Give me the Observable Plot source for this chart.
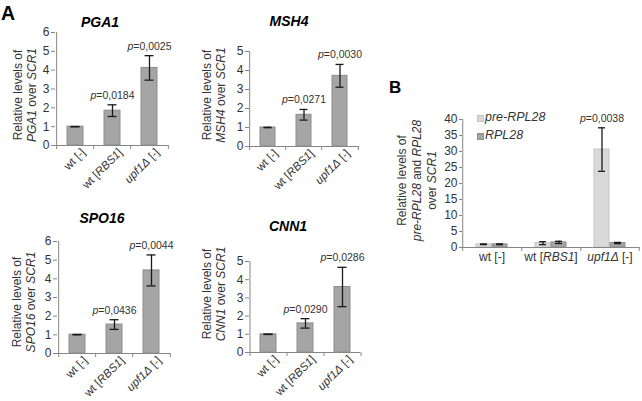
<!DOCTYPE html>
<html><head><meta charset="utf-8">
<script src="https://cdn.jsdelivr.net/npm/d3@7"></script>
<script src="https://cdn.jsdelivr.net/npm/@observablehq/plot@0.6"></script>
<style>
body{margin:0;background:#fff;}
#root{position:relative;width:642px;height:401px;overflow:hidden;font-family:"Liberation Sans",Arial,sans-serif;color:#333;}
#root svg{position:absolute;overflow:visible;}
.t{position:absolute;white-space:nowrap;}
.ytitle{position:absolute;transform:rotate(-90deg);transform-origin:50% 50%;text-align:center;white-space:nowrap;font-size:12px;line-height:14px;color:#333;}
.ttl{position:absolute;text-align:center;font-weight:bold;font-style:italic;font-size:14px;line-height:14px;color:#000;}
.sq{position:absolute;width:5px;height:5px;}
</style></head><body><div id="root"></div>
<script>
// ---------- data ----------
const strains = ["wt [-]", "wt [RBS1]", "upf1Δ [-]"];

const pga1Mean = [1.00, 1.85, 4.12];
const pga1Err  = [0.01, 0.31, 0.65];
const pga1P    = [null, "0,0184", "0,0025"];

const msh4Mean = [1.00, 1.67, 3.72];
const msh4Err  = [0.01, 0.28, 0.60];
const msh4P    = [null, "0,0271", "0,0030"];

const spo16Mean = [1.01, 1.55, 4.45];
const spo16Err  = [0.01, 0.26, 0.83];
const spo16P    = [null, "0,0436", "0,0044"];

const cnn1Mean = [1.00, 1.60, 3.60];
const cnn1Err  = [0.01, 0.26, 1.08];
const cnn1P    = [null, "0,0290", "0,0286"];

const seriesB   = ["pre-RPL28", "RPL28"];
const preMean   = [1.00, 1.35, 30.6];
const preErr    = [0.10, 0.45, 6.8];
const rplMean   = [1.00, 1.60, 1.40];
const rplErr    = [0.12, 0.35, 0.20];
const pB        = [null, null, "0,0038"];

// ---------- helpers ----------
const root = document.getElementById("root");
const FONT = '"Liberation Sans", Arial, sans-serif';
const AXIS = "#868686";
const rich = {
  "wt [RBS1]": 'wt [<tspan font-style="italic">RBS1</tspan>]',
  "upf1Δ [-]": '<tspan font-style="italic">upf1Δ</tspan> [-]'
};
function richify(svg) {
  svg.querySelectorAll("text, tspan").forEach(t => {
    if (t.children.length) return;
    const s = t.textContent;
    if (rich[s]) t.innerHTML = rich[s];
    else if (/^p=/.test(s)) t.innerHTML = '<tspan font-style="italic">p</tspan>' + s.slice(1);
  });
}
function place(svg, left, top) {
  svg.style.left = left + "px"; svg.style.top = top + "px";
  richify(svg); root.appendChild(svg);
}
function addDiv(cls, html, css) {
  const d = document.createElement("div");
  d.className = cls; d.innerHTML = html; Object.assign(d.style, css); root.appendChild(d); return d;
}
function yTitle(lines, cx, cy, w, lh) {
  const h = lines.length * lh;
  addDiv("ytitle", lines.join("<br>"), {left: (cx - w/2) + "px", top: (cy - h/2) + "px", width: w + "px", height: h + "px", lineHeight: lh + "px"});
}

function panelA(o) {
  const {left, top, width, height, ml, mr, mt, mb, ymax, mean, err, pv} = o;
  const fw = width - ml - mr, fh = height - mt - mb;
  const step = fw / strains.length;
  const tu = 4 * ymax / fh;
  const data = strains.map((s, i) => ({s, m: mean[i], e: err[i], p: pv[i]}));
  const svg = Plot.plot({
    width, height, marginLeft: ml, marginRight: mr, marginTop: mt, marginBottom: mb,
    style: {fontFamily: FONT, fontSize: "12px", color: "#333", background: "transparent", overflow: "visible"},
    x: {domain: strains, paddingInner: 0.57, paddingOuter: 0.285, axis: null, label: null},
    y: {domain: [0, ymax], label: null},
    marks: [
      Plot.barY(data, {x: "s", y: "m", fill: "#a5a5a5", stroke: "#8d8d8d", strokeWidth: 1}),
      Plot.ruleY([0], {stroke: AXIS}),
      Plot.ruleX([strains[0]], {dx: -step/2, stroke: AXIS}),
      Plot.ruleX(strains, {x: d => d, y1: 0, y2: -tu, dx: -step/2, stroke: AXIS}),
      Plot.ruleX([strains[strains.length-1]], {x: d => d, y1: 0, y2: -tu, dx: step/2, stroke: AXIS}),
      Plot.axisY({ticks: d3.range(0, ymax + 1), tickFormat: d3.format("d"), tickSize: 4, tickPadding: 2, stroke: AXIS, fontSize: 12, fill: "#333"}),
      Plot.ruleX(data, {x: "s", y1: d => d.m - d.e, y2: d => d.m + d.e, stroke: "#1a1a1a", strokeWidth: 1.3}),
      Plot.tickY(data, {x: "s", y: d => d.m - d.e, insetLeft: 3.5, insetRight: 3.5, stroke: "#1a1a1a", strokeWidth: 1.3}),
      Plot.tickY(data, {x: "s", y: d => d.m + d.e, insetLeft: 3.5, insetRight: 3.5, stroke: "#1a1a1a", strokeWidth: 1.3}),
      Plot.text(data.filter(d => d.p), {x: "s", y: d => d.m + d.e, text: d => "p=" + d.p, lineAnchor: "bottom", dy: -6, fontSize: 10.5, fill: "#333"}),
      Plot.text(strains, {x: d => d, frameAnchor: "bottom", text: d => d, rotate: -45, textAnchor: "end", lineAnchor: "middle", dx: 8, dy: 5, fontSize: 11.5, fill: "#333"})
    ]
  });
  place(svg, left, top);
}

// ---------- panel A ----------
panelA({left: 0, top: 0, width: 180, height: 200, ml: 55, mr: 12, mt: 32, mb: 55, ymax: 6, mean: pga1Mean, err: pga1Err, pv: pga1P});
panelA({left: 190, top: 0, width: 180, height: 200, ml: 59, mr: 11, mt: 51, mb: 54, ymax: 5, mean: msh4Mean, err: msh4Err, pv: msh4P});
panelA({left: 0, top: 200, width: 180, height: 201, ml: 57, mr: 10, mt: 41, mb: 48, ymax: 6, mean: spo16Mean, err: spo16Err, pv: spo16P});
panelA({left: 190, top: 200, width: 180, height: 201, ml: 59, mr: 10, mt: 61, mb: 49, ymax: 5, mean: cnn1Mean, err: cnn1Err, pv: cnn1P});

addDiv("t", "A", {left: "1px", top: "4px", fontSize: "19.5px", fontWeight: "bold", lineHeight: "19.5px", color: "#000"});
addDiv("ttl", "PGA1",  {left: "50px",  top: "15px",  width: "100px"});
addDiv("ttl", "MSH4",  {left: "239px", top: "14px",  width: "100px"});
addDiv("ttl", "SPO16", {left: "52px",  top: "211px", width: "100px"});
addDiv("ttl", "CNN1",  {left: "238px", top: "219px", width: "100px"});

yTitle(["Relative levels of", "<i>PGA1</i> over <i>SCR1</i>"], 24.5, 95, 130, 14);
yTitle(["Relative levels of", "<i>MSH4</i> over <i>SCR1</i>"], 214, 95, 130, 14);
yTitle(["Relative levels of", "<i>SPO16</i> over <i>SCR1</i>"], 23.5, 302, 130, 14);
yTitle(["Relative levels of", "<i>CNN1</i> over <i>SCR1</i>"], 214, 294, 130, 14);

// ---------- panel B ----------
(function () {
  const width = 262, height = 220, ml = 81, mr = 3, mt = 59, mb = 33, ymax = 40;
  const fw = (width - ml - mr) / strains.length, fh = height - mt - mb;
  const pi = 0.05, po = 0.79;
  const xstep = fw / (seriesB.length - pi + 2 * po);
  const off = xstep * (po + (1 - pi) / 2);
  const tu = 4 * ymax / fh;
  const pre = strains.map((g, i) => ({g, s: seriesB[0], m: preMean[i], e: preErr[i], p: pB[i]}));
  const rpl = strains.map((g, i) => ({g, s: seriesB[1], m: rplMean[i], e: rplErr[i]}));
  const all = pre.concat(rpl);
  const svg = Plot.plot({
    width, height, marginLeft: ml, marginRight: mr, marginTop: mt, marginBottom: mb,
    style: {fontFamily: FONT, fontSize: "12px", color: "#333", background: "transparent", overflow: "visible"},
    fx: {domain: strains, padding: 0, axis: null, label: null},
    x: {domain: seriesB, paddingInner: pi, paddingOuter: po, axis: null, label: null},
    y: {domain: [0, ymax], label: null},
    marks: [
      Plot.barY(pre, {fx: "g", x: "s", y: "m", fill: "#d9d9d9", stroke: "#c4c4c4"}),
      Plot.barY(rpl, {fx: "g", x: "s", y: "m", fill: "#a5a5a5", stroke: "#8d8d8d"}),
      Plot.ruleY([0], {stroke: AXIS}),
      Plot.ruleX([strains[0]], {fx: d => d, x: () => seriesB[0], dx: -off, stroke: AXIS}),
      Plot.ruleX(strains, {fx: d => d, x: () => seriesB[0], y1: 0, y2: -tu, dx: -off, stroke: AXIS}),
      Plot.ruleX([strains[strains.length-1]], {fx: d => d, x: () => seriesB[1], y1: 0, y2: -tu, dx: off, stroke: AXIS}),
      Plot.axisY({ticks: d3.range(0, ymax + 1, 5), tickFormat: d3.format("d"), tickSize: 3, tickPadding: 2, stroke: AXIS, fontSize: 12, fill: "#333"}),
      Plot.ruleX(all, {fx: "g", x: "s", y1: d => d.m - d.e, y2: d => d.m + d.e, stroke: "#1a1a1a", strokeWidth: 1.3}),
      Plot.tickY(all, {fx: "g", x: "s", y: d => d.m - d.e, insetLeft: 4, insetRight: 4, stroke: "#1a1a1a", strokeWidth: 1.3}),
      Plot.tickY(all, {fx: "g", x: "s", y: d => d.m + d.e, insetLeft: 4, insetRight: 4, stroke: "#1a1a1a", strokeWidth: 1.3}),
      Plot.text(pre.filter(d => d.p), {fx: "g", x: "s", y: d => d.m + d.e, text: d => "p=" + d.p, lineAnchor: "bottom", dy: -6, fontSize: 10.5, fill: "#333"}),
      Plot.text(strains, {fx: d => d, frameAnchor: "bottom", text: d => d, lineAnchor: "top", dy: 5, fontSize: 12, fill: "#333"})
    ]
  });
  place(svg, 380, 60);
})();

addDiv("t", "B", {left: "389px", top: "79px", fontSize: "17px", fontWeight: "bold", lineHeight: "17px", color: "#000"});
yTitle(["Relative levels of", "<i>pre-RPL28</i> and <i>RPL28</i>", "over <i>SCR1</i>"], 417, 180, 150, 15);

addDiv("sq", "", {left: "477px", top: "115px", background: "#d9d9d9", border: "0.5px solid #c4c4c4"});
addDiv("sq", "", {left: "477px", top: "133px", background: "#a5a5a5", border: "0.5px solid #8d8d8d"});
addDiv("t", "<i>pre-RPL28</i>", {left: "485px", top: "111px", fontSize: "12.5px", lineHeight: "12px", color: "#333"});
addDiv("t", "<i>RPL28</i>", {left: "485px", top: "129px", fontSize: "12.5px", lineHeight: "12px", color: "#333"});
</script></body></html>
